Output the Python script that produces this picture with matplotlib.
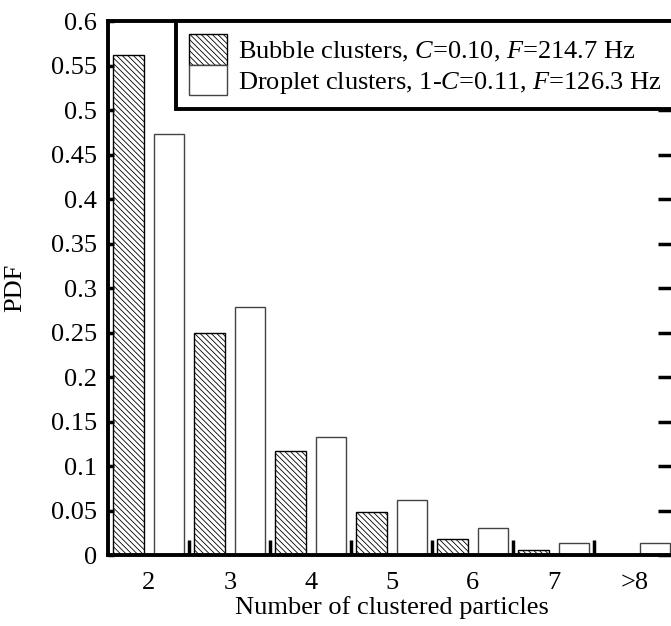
import numpy as np
import matplotlib
matplotlib.use("Agg")
import matplotlib.pyplot as plt

plt.rcParams['font.family'] = ['Liberation Serif', 'DejaVu Serif']
plt.rcParams['mathtext.fontset'] = 'custom'
plt.rcParams['mathtext.rm'] = 'Liberation Serif'
plt.rcParams['mathtext.it'] = 'Liberation Serif:italic'
plt.rcParams['hatch.linewidth'] = 0.6

# cluster size categories and PDF values
categories = ['2', '3', '4', '5', '6', '7', '>8']
bubble_pdf = [0.562, 0.250, 0.117, 0.048, 0.018, 0.006, 0.0005]
droplet_pdf = [0.473, 0.279, 0.133, 0.062, 0.030, 0.013, 0.013]
y_ticks = [0, 0.05, 0.1, 0.15, 0.2, 0.25, 0.3, 0.35, 0.4, 0.45, 0.5, 0.55, 0.6]
y_labels = ['0', '0.05', '0.1', '0.15', '0.2', '0.25', '0.3', '0.35', '0.4', '0.45', '0.5', '0.55', '0.6']

fs = 19

fig = plt.figure(figsize=(6.71, 6.26), dpi=100)
ax = fig.add_axes([0.1614, 0.1134, 0.845, 0.853])

x = np.arange(len(categories))
w = 0.38
ax.bar(x - 0.25, bubble_pdf, w, facecolor='white', edgecolor='black',
       hatch='\\' * 6, linewidth=1.0,
       label=r'Bubble clusters, $C$=0.10, $F$=214.7 Hz')
ax.bar(x + 0.25, droplet_pdf, w, facecolor='white', edgecolor='#444444',
       linewidth=1.0,
       label=r'Droplet clusters, 1-$C$=0.11, $F$=126.3 Hz')

ax.set_xlim(-0.5, 6.5)
ax.set_ylim(0, 0.6)

for s in ax.spines.values():
    s.set_linewidth(2.8)

# separators between categories as major ticks, names as minor ticks
ax.set_xticks(x[:-1] + 0.5)
ax.set_xticklabels([])
ax.set_xticks(x, categories, minor=True)
ax.tick_params(axis='x', which='major', direction='in', length=11, width=2.5)
ax.tick_params(axis='x', which='minor', length=0, pad=12, labelsize=fs)

ax.set_yticks(y_ticks, y_labels)
ax.tick_params(axis='y', which='major', direction='in', left=True, right=True,
               length=4, width=2.5, labelsize=fs, pad=8)
for t in ax.yaxis.get_major_ticks():
    t.tick2line.set_markersize(12)

ax.set_xlabel('Number of clustered particles', fontsize=fs, labelpad=2)
ax.set_ylabel('PDF', fontsize=fs, labelpad=18)

leg = ax.legend(loc='upper right', bbox_to_anchor=(1.0, 1.0), borderaxespad=0,
                fontsize=fs, fancybox=False, framealpha=1, edgecolor='black',
                handlelength=1.45, handleheight=1.4, handletextpad=0.42,
                labelspacing=0, borderpad=0.5)
leg.get_frame().set_linewidth(2.8)

fig.savefig('out.png', dpi=100)
